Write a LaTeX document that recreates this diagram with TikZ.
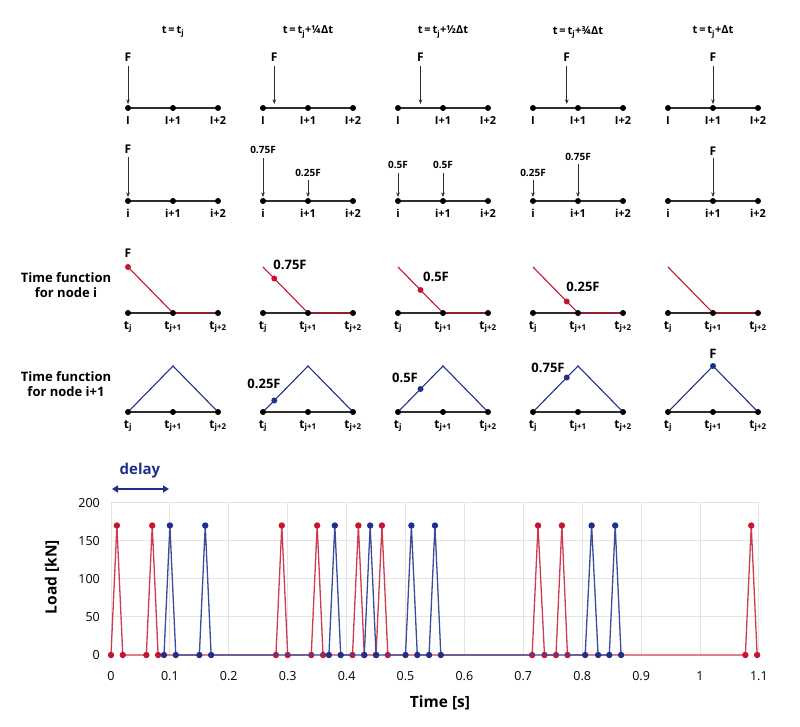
\documentclass[tikz,border=0pt]{standalone}
\usepackage{fontspec}
\setmainfont{Open Sans}
\usetikzlibrary{arrows.meta}
\definecolor{fred}{RGB}{196,22,48}
\definecolor{fredl}{RGB}{205,60,80}
\definecolor{fblue}{RGB}{32,48,138}
\definecolor{fbluel}{RGB}{60,75,155}
\definecolor{beamc}{RGB}{45,45,45}
\definecolor{gridc}{RGB}{228,228,228}
\tikzset{
  beamline/.style={line width=1.6pt, draw=beamc},
  bdot/.style={fill=black},
  force/.style={draw=beamc, line width=0.6pt, -{Stealth[length=4.5pt,width=3.5pt]}},
  ttl/.style={font=\fontsize{11}{13}\selectfont\bfseries, inner sep=0pt},
  nlbl/.style={font=\fontsize{11}{13}\selectfont\bfseries, inner sep=0pt},
  flbl/.style={font=\fontsize{12}{13}\selectfont\bfseries, inner sep=0pt},
  slbl/.style={font=\fontsize{10}{11}\selectfont\bfseries, inner sep=0pt},
  tlbl/.style={font=\fontsize{12}{13}\selectfont\bfseries, inner sep=0pt},
  vlbl/.style={font=\fontsize{13}{15}\selectfont\bfseries, inner sep=0pt},
  side/.style={font=\fontsize{13}{15}\selectfont\bfseries, align=center, inner sep=0pt},
  redfn/.style={draw=fred, line width=1.1pt},
  bluefn/.style={draw=fblue, line width=1.1pt},
  tick/.style={font=\fontsize{12.5}{14}\selectfont, inner sep=0pt},
  axt/.style={font=\fontsize{15.5}{18}\selectfont\bfseries, inner sep=0pt},
}
\begin{document}
\begin{tikzpicture}[x=1pt,y=-1pt]
\useasboundingbox (0,0) rectangle (800,727);
\fill[white] (0,0) rectangle (800,727);

% ---------- titles and beams ----------
\foreach \k/\ttext in {0/{t\,=\,t\textsubscript{j}},
                       1/{t\,=\,t\textsubscript{j}+¼Δt},
                       2/{t\,=\,t\textsubscript{j}+½Δt},
                       3/{t\,=\,t\textsubscript{j}+¾Δt},
                       4/{t\,=\,t\textsubscript{j}+Δt}} {
  \pgfmathsetmacro\cx{128+135*\k}
  \node[ttl] (title-\k) at (\cx+45,32) {\ttext};
  \foreach \r/\yy in {1/108,2/201,3/313,4/412} {
    \coordinate (n\r-\k-a) at (\cx,\yy);
    \coordinate (n\r-\k-b) at (\cx+45,\yy);
    \coordinate (n\r-\k-c) at (\cx+90,\yy);
    \draw[beamline] (n\r-\k-a) -- (n\r-\k-c);
  }
  % node labels
  \node[nlbl] (l1-\k-a) at (\cx,121) {I};
  \node[nlbl] (l1-\k-b) at (\cx+45,121) {I+1};
  \node[nlbl] (l1-\k-c) at (\cx+90,121) {I+2};
  \node[nlbl] (l2-\k-a) at (\cx,213) {i};
  \node[nlbl] (l2-\k-b) at (\cx+45,213) {i+1};
  \node[nlbl] (l2-\k-c) at (\cx+90,213) {i+2};
  \foreach \r/\yy in {3/327,4/426} {
    \node[tlbl] (l\r-\k-a) at (\cx,\yy) {t\textsubscript{j}};
    \node[tlbl] (l\r-\k-b) at (\cx+45,\yy) {t\textsubscript{j+1}};
    \node[tlbl] (l\r-\k-c) at (\cx+90,\yy) {t\textsubscript{j+2}};
  }
  % row 1 moving force
  \pgfmathsetmacro\fx{\cx+11.25*\k}
  \node[flbl] (f1-\k) at (\fx,57) {F};
  \coordinate (f1s-\k) at (\fx,66);
  \coordinate (f1e-\k) at (\fx,104);
  \draw[force] (f1s-\k) -- (f1e-\k);
  % row 3: time function for node i (red)
  \coordinate (r3s-\k) at (\cx,267);
  \draw[redfn] (r3s-\k) -- (n3-\k-b) -- (n3-\k-c);
  % row 4: time function for node i+1 (blue)
  \coordinate (r4p-\k) at (\cx+45,366);
  \draw[bluefn] (n4-\k-a) -- (r4p-\k) -- (n4-\k-c);
  % beam dots
  \foreach \r in {1,2,3,4} {
    \foreach \p in {a,b,c} {
      \fill[bdot] (n\r-\k-\p) circle (3pt);
    }
  }
}

% ---------- row 2 lumped forces ----------
\foreach \name/\x/\ly/\sy/\txt/\sty in {a/128/149/157/F/flbl,
    b/263/150/158/0.75F/slbl, c/308/173/180/0.25F/slbl,
    d/398/165/173/0.5F/slbl, e/443/165/173/0.5F/slbl,
    f/533/173/180/0.25F/slbl, g/578/157/164/0.75F/slbl,
    h/713/151/158/F/flbl} {
  \node[\sty] (f2-\name) at (\x,\ly) {\txt};
  \coordinate (f2s-\name) at (\x,\sy);
  \coordinate (f2e-\name) at (\x,197);
  \draw[force] (f2s-\name) -- (f2e-\name);
}

% ---------- row 3 red dots and labels ----------
\fill[fred] (r3s-0) circle (3pt);
\node[flbl] (v3-0) at (128,253) {F};
\foreach \k/\f/\lx/\ly/\txt in {1/0.25/290/265/0.75F, 2/0.5/436/277/0.5F, 3/0.75/583/287/0.25F} {
  \pgfmathsetmacro\cx{128+135*\k}
  \coordinate (d3-\k) at (\cx+45*\f,267+46*\f);
  \fill[fred] (d3-\k) circle (3pt);
  \node[vlbl] (v3-\k) at (\lx,\ly) {\txt};
}

% ---------- row 4 blue dots and labels ----------
\foreach \k/\f/\lx/\ly/\txt in {1/0.25/264/384/0.25F, 2/0.5/405/378/0.5F, 3/0.75/548/368/0.75F, 4/1/713/354/F} {
  \pgfmathsetmacro\cx{128+135*\k}
  \coordinate (d4-\k) at (\cx+45*\f,412-46*\f);
  \fill[fblue] (d4-\k) circle (3pt);
  \node[vlbl] (v4-\k) at (\lx,\ly) {\txt};
}

% ---------- side labels ----------
\node[side] (side-i) at (66,285.5) {Time function\\for node i};
\node[side] (side-i1) at (66,384.5) {Time function\\for node i+1};

% ---------- chart ----------
\begin{scope}[shift={(111,655)}, x=589pt, y=0.7617pt]
  \foreach \i in {0,...,11} {
    \draw[gridc, line width=0.9pt] (\i/10,0) -- (\i/10,200);
  }
  \foreach \v in {50,100,150,200} {
    \draw[gridc, line width=0.9pt] (0,\v) -- (1.1,\v);
  }
  \foreach \v in {0,50,100,150,200} {
    \node[tick, anchor=east] (yl-\v) at ([xshift=-11pt]0,\v) {\v};
  }
  \foreach \i/\l in {0/0,1/0.1,2/0.2,3/0.3,4/0.4,5/0.5,6/0.6,7/0.7,8/0.8,9/0.9,10/1,11/1.1} {
    \node[tick] (xl-\i) at ([yshift=-21pt]\i/10,0) {\l};
  }
  \draw[fredl, line width=1.3pt] plot[mark=*, mark size=2.5pt, mark options={fill=fred, draw=fred}] coordinates {
    (0,0) (0.01,170) (0.02,0) (0.06,0) (0.07,170) (0.08,0)
    (0.28,0) (0.29,170) (0.30,0) (0.34,0) (0.35,170) (0.36,0)
    (0.41,0) (0.42,170) (0.43,0) (0.45,0) (0.46,170) (0.47,0)
    (0.715,0) (0.725,170) (0.736,0) (0.7555,0) (0.7655,170) (0.775,0)
    (1.077,0) (1.087,170) (1.097,0)};
  \draw[fbluel, line width=1.3pt] plot[mark=*, mark size=2.5pt, mark options={fill=fblue, draw=fblue}] coordinates {
    (0.09,0) (0.10,170) (0.11,0) (0.15,0) (0.16,170) (0.17,0)
    (0.37,0) (0.38,170) (0.39,0) (0.43,0) (0.44,170) (0.45,0)
    (0.50,0) (0.51,170) (0.52,0) (0.54,0) (0.55,170) (0.56,0)
    (0.805,0) (0.816,170) (0.827,0) (0.846,0) (0.856,170) (0.866,0)};
\end{scope}

\node[axt, rotate=90] (ylab) at (52,577) {Load [kN]};
\node[axt] (xlab) at (440,703) {Time [s]};

% delay
\node[axt, text=fblue, font=\fontsize{15}{18}\selectfont\bfseries] (delay) at (140,471) {delay};
\coordinate (dl) at (112,489);
\coordinate (dr) at (169,489);
\draw[fblue, line width=1.5pt, {Triangle[length=6pt,width=7pt]}-{Triangle[length=6pt,width=7pt]}] (dl) -- (dr);
\end{tikzpicture}
\end{document}
